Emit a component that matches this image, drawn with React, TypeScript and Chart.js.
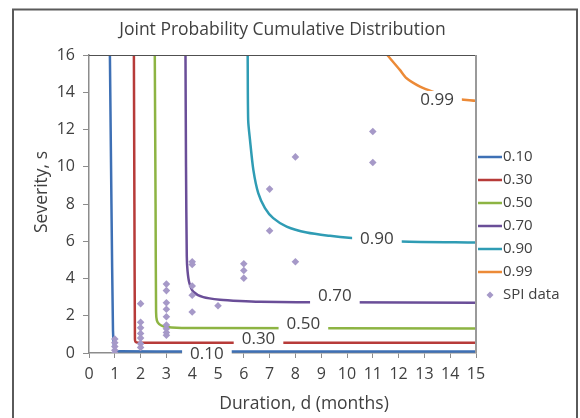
import React, { useEffect, useRef } from 'react';
import { Chart, registerables } from 'chart.js';

Chart.register(...registerables);

const FONT = '"Open Sans", "DejaVu Sans", sans-serif';
const TEXT = '#404040';

const chartTitle = 'Joint Probability Cumulative Distribution';
const xTitle = 'Duration, d (months)';
const yTitle = 'Severity, s';

const xTicks = [0, 1, 2, 3, 4, 5, 6, 7, 8, 9, 10, 11, 12, 13, 14, 15];
const yTicks = [0, 2, 4, 6, 8, 10, 12, 14, 16];

const levels = ['0.10', '0.30', '0.50', '0.70', '0.90', '0.99'];
const levelColors = ['#3E70B5', '#B73B39', '#8DB443', '#6A4E98', '#2F9CB4', '#EC8A37'];

// contour lines (duration d, severity s)
const p10d = [0.81, 0.87, 0.93, 0.97, 1.02, 1.2, 4.0, 15];
const p10s = [16, 8, 1.2, 0.3, 0.1, 0.09, 0.08, 0.08];
const p30d = [1.74, 1.76, 1.78, 1.8, 1.9, 3.0, 15];
const p30s = [16, 8, 0.75, 0.6, 0.55, 0.55, 0.55];
const p50d = [2.55, 2.58, 2.6, 2.63, 2.72, 2.9, 3.2, 4.0, 15];
const p50s = [16, 8, 2.2, 1.75, 1.55, 1.42, 1.37, 1.34, 1.32];
const p70d = [3.74, 3.76, 3.79, 3.82, 3.89, 4.04, 4.43, 5.08, 5.85, 6.63, 9.5, 15];
const p70s = [16, 10, 5.2, 4.4, 3.76, 3.3, 3.0, 2.86, 2.79, 2.75, 2.72, 2.7];
const p90d = [6.15, 6.17, 6.24, 6.37, 6.56, 6.82, 7.14, 7.66, 8.44, 9.34, 10.18, 11.1, 12.09, 15];
const p90s = [16, 12.5, 11.44, 9.83, 8.58, 7.78, 7.24, 6.79, 6.47, 6.29, 6.17, 6.08, 5.99, 5.93];
const p99d = [11.56, 12.05, 12.31, 12.83, 13.32, 14.12, 15];
const p99s = [16, 15.2, 14.75, 14.3, 14.03, 13.68, 13.54];

const contourD = [p10d, p30d, p50d, p70d, p90d, p99d];
const contourS = [p10s, p30s, p50s, p70s, p90s, p99s];

// inline level label anchor points
const labelD = [4.57, 6.57, 8.31, 9.53, 11.16, 13.49];
const labelS = [-0.04, 0.73, 1.57, 3.05, 6.13, 13.59];

// SPI observed events
const spiName = 'SPI data';
const spiColor = '#A699C8';
const spiD = [1, 1, 1, 1, 1, 2, 2, 2, 2, 2, 2, 2, 3, 3, 3, 3, 3, 3, 3, 3, 3, 4, 4, 4, 4, 4, 5, 6, 6, 6, 7, 7, 8, 8, 11, 11];
const spiS = [0.75, 0.55, 0.35, 0.15, 0.0, 2.65, 1.65, 1.35, 1.05, 0.8, 0.5, 0.3, 3.7, 3.35, 2.7, 2.35, 1.95, 1.5, 1.3, 1.1, 0.95, 4.9, 4.75, 3.6, 3.1, 2.2, 2.54, 4.79, 4.43, 4.02, 8.8, 6.56, 10.53, 4.9, 11.89, 10.23];

const decorPlugin = {
  id: 'decor',
  beforeDraw(chart: any) {
    const ctx = chart.ctx;
    ctx.save();
    ctx.fillStyle = '#ffffff';
    ctx.fillRect(0, 0, chart.width, chart.height);
    ctx.restore();
  },
  afterDatasetsDraw(chart: any) {
    const ctx = chart.ctx;
    const xs = chart.scales.x;
    const ys = chart.scales.y;
    ctx.save();
    ctx.font = `17px ${FONT}`;
    ctx.textAlign = 'center';
    ctx.textBaseline = 'middle';
    for (let i = 0; i < levels.length; i++) {
      const px = xs.getPixelForValue(labelD[i]);
      const py = ys.getPixelForValue(labelS[i]);
      const w = ctx.measureText(levels[i]).width;
      ctx.fillStyle = '#ffffff';
      ctx.fillRect(px - w / 2 - 8, py - 9, w + 16, 18);
      ctx.fillStyle = TEXT;
      ctx.fillText(levels[i], px, py);
    }
    ctx.restore();
  },
  afterDraw(chart: any) {
    const ctx = chart.ctx;
    const a = chart.chartArea;
    ctx.save();
    // plot top and right borders
    ctx.strokeStyle = '#505050';
    ctx.lineWidth = 1;
    ctx.beginPath();
    ctx.moveTo(a.left, a.top + 0.5);
    ctx.lineTo(a.right, a.top + 0.5);
    ctx.stroke();
    ctx.strokeStyle = '#9a9a9a';
    ctx.lineWidth = 2;
    ctx.beginPath();
    ctx.moveTo(a.right, a.top);
    ctx.lineTo(a.right, a.bottom);
    ctx.stroke();
    // outer frame
    ctx.strokeStyle = '#5a5a5a';
    ctx.lineWidth = 2;
    ctx.strokeRect(13, 9.5, 564, 600);
    // titles
    ctx.fillStyle = TEXT;
    ctx.textAlign = 'center';
    ctx.textBaseline = 'middle';
    ctx.font = `17.5px ${FONT}`;
    ctx.fillText(chartTitle, (a.left + a.right) / 2, 30);
    ctx.fillText(xTitle, 304, 404);
    ctx.save();
    ctx.translate(42, 192);
    ctx.rotate(-Math.PI / 2);
    ctx.fillText(yTitle, 0, 0);
    ctx.restore();
    // legend
    ctx.font = `15px ${FONT}`;
    ctx.textAlign = 'left';
    for (let i = 0; i < levels.length; i++) {
      const y = 157 + 23 * i;
      ctx.strokeStyle = levelColors[i];
      ctx.lineWidth = 2.5;
      ctx.beginPath();
      ctx.moveTo(478, y);
      ctx.lineTo(502, y);
      ctx.stroke();
      ctx.fillStyle = TEXT;
      ctx.fillText(levels[i], 503, y);
    }
    const ly = 157 + 23 * 6;
    ctx.fillStyle = spiColor;
    ctx.beginPath();
    ctx.moveTo(490, ly - 3.5);
    ctx.lineTo(493.5, ly);
    ctx.lineTo(490, ly + 3.5);
    ctx.lineTo(486.5, ly);
    ctx.closePath();
    ctx.fill();
    ctx.fillStyle = TEXT;
    ctx.fillText(spiName, 503, ly);
    ctx.restore();
  },
};

export default function App() {
  const ref = useRef<HTMLCanvasElement | null>(null);
  useEffect(() => {
    if (!ref.current) return;
    const datasets: any[] = levels.map((lv, i) => ({
      label: lv,
      data: contourD[i].map((d, j) => ({ x: d, y: contourS[i][j] })),
      showLine: true,
      borderColor: levelColors[i],
      backgroundColor: levelColors[i],
      borderWidth: 2.5,
      pointRadius: 0,
      tension: 0.25,
      order: 1,
    }));
    datasets.push({
      label: spiName,
      data: spiD.map((d, j) => ({ x: d, y: spiS[j] })),
      showLine: false,
      pointStyle: 'rectRot',
      pointRadius: 3.8,
      backgroundColor: spiColor,
      borderWidth: 0,
      order: 0,
    });
    const chart = new Chart(ref.current, {
      type: 'scatter',
      data: { datasets },
      plugins: [decorPlugin],
      options: {
        responsive: false,
        animation: false,
        layout: { padding: { left: 0, top: 55, right: 104, bottom: 0 } },
        plugins: { legend: { display: false }, title: { display: false }, tooltip: { enabled: false } },
        scales: {
          x: {
            type: 'linear',
            min: 0,
            max: 15,
            afterFit: (s: any) => { s.height = 65; },
            afterBuildTicks: (s: any) => { s.ticks = xTicks.map((v) => ({ value: v })); },
            ticks: { autoSkip: false, maxRotation: 0, color: TEXT, font: { family: FONT, size: 16 }, padding: 7 },
            grid: { drawOnChartArea: false, drawTicks: true, tickLength: 5, color: '#8c8c8c' },
            border: { color: '#8c8c8c', width: 1.5 },
          },
          y: {
            type: 'linear',
            min: 0,
            max: 16,
            afterFit: (s: any) => { s.width = 89; },
            afterBuildTicks: (s: any) => { s.ticks = yTicks.map((v) => ({ value: v })); },
            ticks: { autoSkip: false, color: TEXT, font: { family: FONT, size: 16 }, padding: 8 },
            grid: { drawOnChartArea: false, drawTicks: true, tickLength: 6, color: '#8c8c8c' },
            border: { color: '#8c8c8c', width: 1.5 },
          },
        },
      },
    });
    return () => chart.destroy();
  }, []);
  return (
    <div style={{ position: 'fixed', left: 0, top: 0, width: 580, height: 418 }}>
      <canvas ref={ref} width={580} height={418} style={{ display: 'block', width: 580, height: 418 }} />
    </div>
  );
}
